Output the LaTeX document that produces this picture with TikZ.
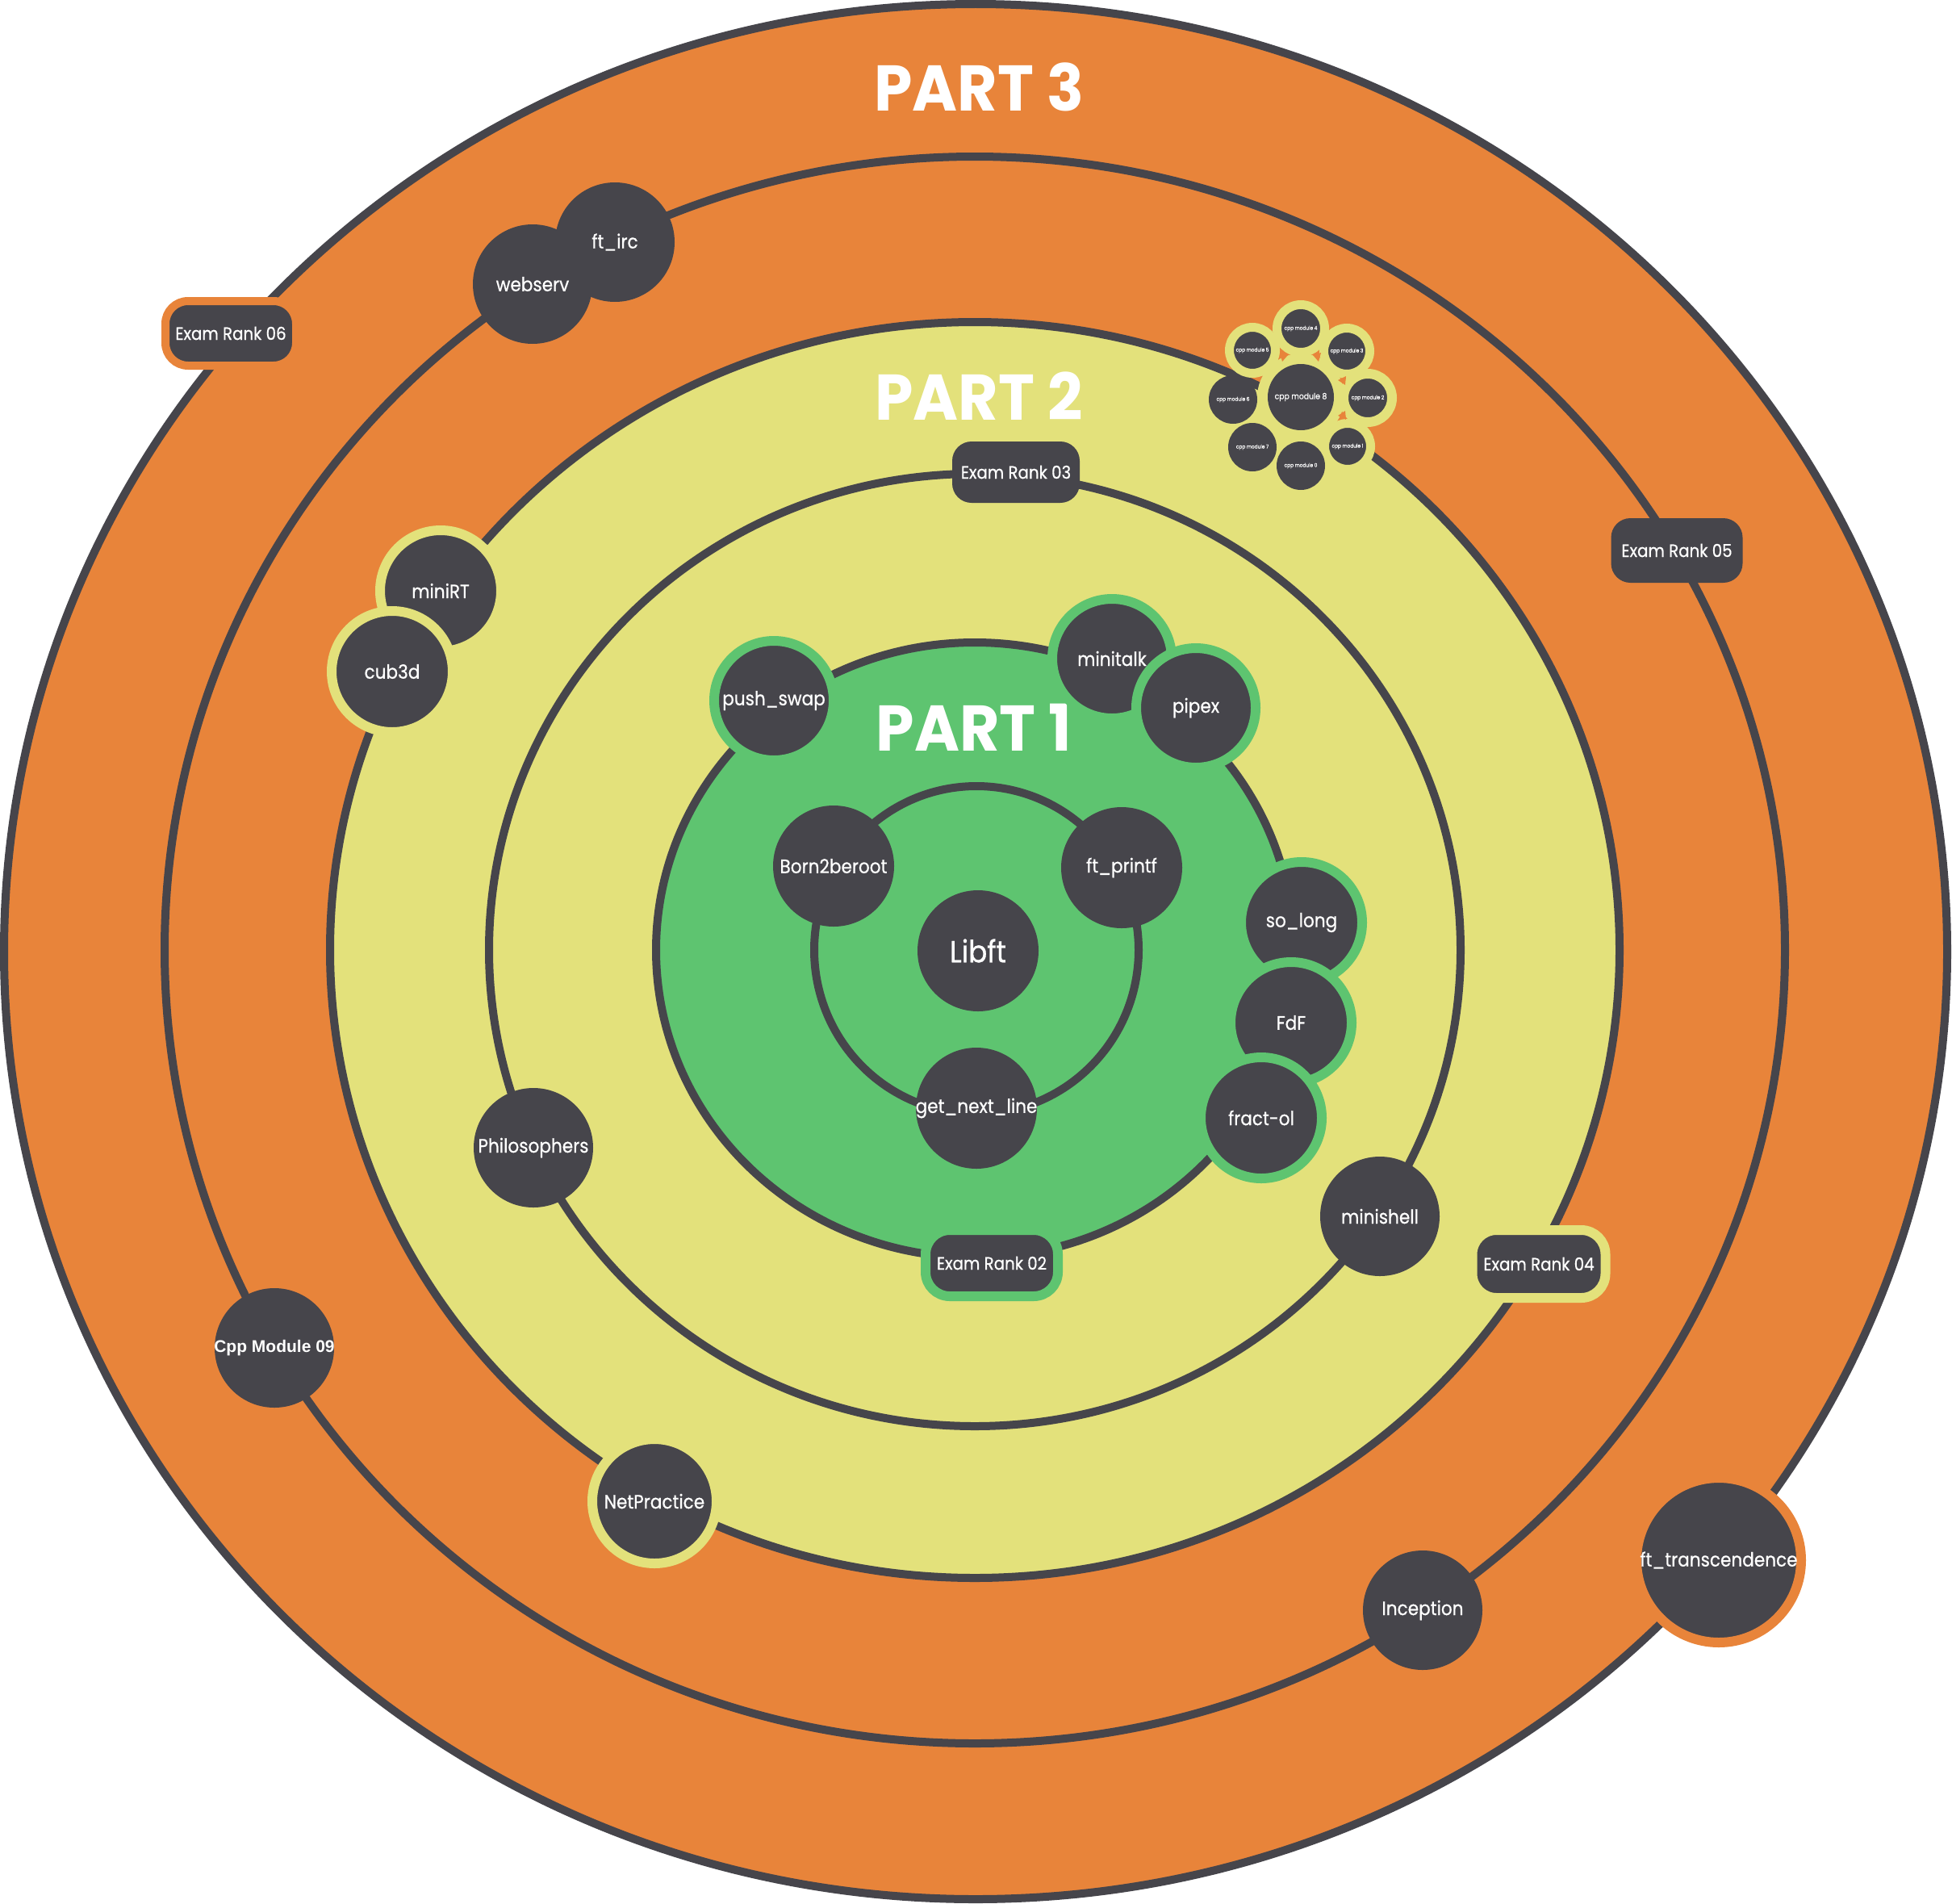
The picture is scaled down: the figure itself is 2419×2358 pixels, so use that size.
\documentclass[tikz,border=0pt]{standalone}
\usepackage{fontspec}
\setmainfont{Poppins}[FakeStretch=0.9,FakeBold=0.6]
\newfontfamily\partfont{Poppins}[FakeStretch=0.95]
\newfontfamily\arialfont{Liberation Sans}
\definecolor{orng}{RGB}{232,132,58}
\definecolor{yel}{RGB}{227,225,123}
\definecolor{grn}{RGB}{94,196,112}
\definecolor{dk}{RGB}{70,69,75}
\newcommand{\lb}[1]{\makebox[0pt][c]{#1}}
\begin{document}
\begin{tikzpicture}[x=1pt,y=-1pt,
  ringline/.style={draw=dk, line width=10pt},
  proj/.style={circle, fill=dk, text=white, inner sep=0pt, outer sep=0pt, font=\fontsize{24}{24}\selectfont},
  exam/.style={rectangle, fill=dk, text=white, inner sep=0pt, outer sep=0pt, font=\fontsize{22}{22}\selectfont},
  cpp/.style={circle, fill=dk, text=white, inner sep=0pt, outer sep=0pt, font=\fontsize{6.5}{6.5}\selectfont},
  parttitle/.style={text=white, inner sep=0pt, font=\partfont\bfseries\fontsize{80}{80}\selectfont},
  tip/.style={fill=orng}
]
\useasboundingbox (0,0) rectangle (2419,2358);
% rings
\filldraw[fill=orng, ringline] (1209,1179) ellipse [x radius=1204pt, y radius=1174pt];
\draw[ringline] (1208,1177) ellipse [x radius=1004pt, y radius=983pt];
\filldraw[fill=yel, ringline] (1208,1177) ellipse [x radius=799pt, y radius=778pt];
\draw[ringline] (1208,1177) ellipse [x radius=602pt, y radius=590pt];
\filldraw[fill=grn, ringline] (1208,1177) ellipse [x radius=395pt, y radius=381pt];
\draw[ringline] (1210,1177) ellipse [x radius=201pt, y radius=203pt];
% titles
\node[parttitle] (p3) at (1213,108) {PART 3};
\node[parttitle] (p2) at (1213,491) {PART 2};
\node[parttitle] (p1) at (1207,901) {PART 1};
% part 1
\node[proj, minimum size=150pt, font=\fontsize{38}{38}\selectfont] (libft) at (1212,1178) {\lb{Libft}};
\node[proj, minimum size=150pt] (b2b) at (1033,1073) {\lb{Born2beroot}};
\node[proj, minimum size=150pt] (printf) at (1390,1075) {\lb{ft\_printf}};
\node[proj, minimum size=150pt] (gnl) at (1210,1373) {\lb{get\_next\_line}};
\node[proj, minimum size=148pt, draw=grn, line width=12pt] (pushswap) at (959,868) {\lb{push\_swap}};
\node[proj, minimum size=148pt, draw=grn, line width=12pt] (minitalk) at (1378,816) {\lb{minitalk}};
\node[proj, minimum size=148pt, draw=grn, line width=12pt] (pipex) at (1482,877) {\lb{pipex}};
\node[proj, minimum size=150pt, draw=grn, line width=12pt] (solong) at (1613,1143) {\lb{so\_long}};
\node[proj, minimum size=150pt, draw=grn, line width=12pt] (fdf) at (1600,1267) {\lb{FdF}};
\node[proj, minimum size=150pt, draw=grn, line width=12pt] (fractol) at (1563,1385) {\lb{fract-ol}};
\node[exam, minimum width=164pt, minimum height=82pt, draw=grn, line width=12pt, rounded corners=30pt] (ex02) at (1229,1565) {Exam Rank 02};
% part 2
\node[proj, minimum size=148pt] (philo) at (661,1422) {\lb{Philosophers}};
\node[proj, minimum size=148pt] (minishell) at (1710,1507) {\lb{minishell}};
\node[exam, minimum width=158pt, minimum height=76pt, rounded corners=24pt] (ex03) at (1259,585) {Exam Rank 03};
\node[exam, minimum width=165pt, minimum height=84pt, draw=yel, line width=12pt, rounded corners=30pt] (ex04) at (1907,1566) {Exam Rank 04};
\node[proj, minimum size=150pt, draw=yel, line width=12pt] (minirt) at (546,732) {\lb{miniRT}};
\node[proj, minimum size=150pt, draw=yel, line width=12pt] (cub3d) at (486,832) {\lb{cub3d}};
\node[proj, minimum size=154pt, draw=yel, line width=12pt] (netpractice) at (811,1860) {\lb{NetPractice}};
% cpp cluster
\node[circle, fill=yel, minimum size=108pt, inner sep=0pt] (cpphalo) at (1612,492) {};
\node[cpp, minimum size=59pt, draw=yel, line width=11pt] (cpp4) at (1612,407) {\lb{cpp module 4}};
\node[cpp, minimum size=57pt, draw=yel, line width=11pt] (cpp5) at (1552,434) {\lb{cpp module 5}};
\node[cpp, minimum size=57pt, draw=yel, line width=11pt] (cpp3) at (1669,435) {\lb{cpp module 3}};
\node[cpp, minimum size=60pt, draw=yel, line width=12pt] (cpp2) at (1695,493) {\lb{cpp module 2}};
\node[cpp, minimum size=57pt, draw=yel, line width=11pt] (cpp1) at (1670,553) {\lb{cpp module 1}};
\node[cpp, minimum size=60pt] (cpp6) at (1528,495) {\lb{cpp module 6}};
\node[cpp, minimum size=60pt] (cpp7) at (1552,554) {\lb{cpp module 7}};
\node[cpp, minimum size=60pt] (cpp0) at (1612,577) {\lb{cpp module 0}};
\node[cpp, minimum size=82pt, font=\fontsize{10.3}{10.3}\selectfont] (cpp8) at (1612,492) {\lb{cpp module 8}};
\fill[tip] (1586,437) -- (1596,440) -- (1589,448) -- cycle;
\fill[tip] (1637,437) -- (1627,440) -- (1634,448) -- cycle;
\fill[tip] (1668,466) -- (1667,477) -- (1658,471) -- cycle;
\fill[tip] (1668,520) -- (1667,509) -- (1658,515) -- cycle;
% part 3
\node[proj, minimum size=148pt] (ftirc) at (762,300) {\lb{ft\_irc}};
\node[proj, minimum size=148pt] (webserv) at (660,352) {\lb{webserv}};
\node[exam, minimum width=163pt, minimum height=80pt, rounded corners=24pt] (ex05) at (2078,682) {Exam Rank 05};
\node[exam, minimum width=162pt, minimum height=80pt, draw=orng, line width=10pt, rounded corners=28pt] (ex06) at (286,413) {Exam Rank 06};
\node[proj, minimum size=148pt, font=\arialfont\bfseries\fontsize{21}{21}\selectfont] (cpp09) at (340,1670) {\lb{Cpp Module 09}};
\node[proj, minimum size=148pt] (inception) at (1763,1995) {\lb{Inception}};
\node[proj, minimum size=204pt, draw=orng, line width=12pt] (fttrans) at (2130,1933) {\lb{ft\_transcendence}};
\end{tikzpicture}
\end{document}
